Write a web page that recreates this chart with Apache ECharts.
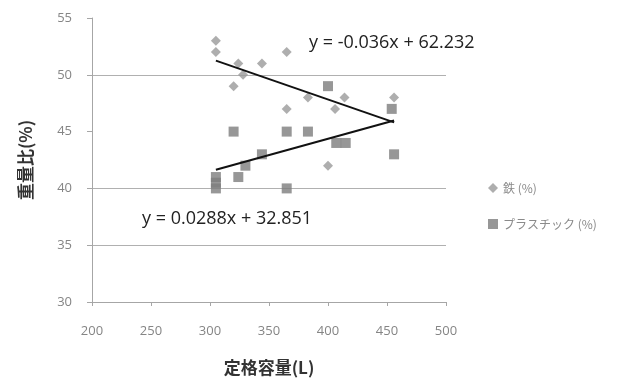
<!DOCTYPE html>
<html><head><meta charset="utf-8">
<script src="https://cdn.jsdelivr.net/npm/echarts@6/dist/echarts.min.js"></script>
<style>html,body{margin:0;padding:0;background:#fff}#c{width:627px;height:383px}</style>
</head><body><div id="c"></div>
<script>
// Data
const ironX = [305, 305, 320, 324, 328, 344, 365, 365, 383, 400, 406, 414, 456];
const ironY = [53, 52, 49, 51, 50, 51, 52, 47, 48, 42, 47, 48, 48];
const plasticX = [305, 305, 305, 320, 324, 330, 344, 365, 365, 383, 400, 407, 415, 454, 456];
const plasticY = [41, 40.5, 40, 45, 41, 42, 43, 45, 40, 45, 49, 44, 44, 47, 43];
const ironTrend = { slope: -0.036, intercept: 62.232 };
const plasticTrend = { slope: 0.0288, intercept: 32.851 };
const seriesNames = ['鉄 (%)', 'プラスチック (%)'];
const xTicks = [200, 250, 300, 350, 400, 450, 500];
const yTicks = [30, 35, 40, 45, 50, 55];

const zip = (xs, ys) => xs.map((x, i) => [x, ys[i]]);
function trendLine(xs, t) {
  const lo = Math.min(...xs), hi = Math.max(...xs);
  return [[lo, t.slope * lo + t.intercept], [hi, t.slope * hi + t.intercept]];
}
const allX = ironX.concat(plasticX);

const chart = echarts.init(document.getElementById('c'), null, { renderer: 'canvas' });
const axisFont = { color: '#858585', fontSize: 13, fontFamily: 'Open Sans, sans-serif' };
chart.setOption({
  animation: false,
  backgroundColor: '#ffffff',
  grid: { left: 92, right: 181, top: 18, bottom: 81, containLabel: false },
  xAxis: {
    type: 'value', min: xTicks[0], max: xTicks[xTicks.length - 1], interval: 50,
    name: '定格容量(L)', nameLocation: 'middle', nameGap: 57,
    nameTextStyle: { color: '#333', fontSize: 17, fontWeight: 'bold', fontFamily: 'Noto Sans CJK JP, sans-serif' },
    axisLine: { show: true, onZero: false, lineStyle: { color: '#a6a6a6', width: 1 } },
    axisTick: { show: true, length: 4, lineStyle: { color: '#a6a6a6' } },
    axisLabel: Object.assign({ margin: 23 }, axisFont),
    splitLine: { show: false }
  },
  yAxis: {
    type: 'value', min: yTicks[0], max: yTicks[yTicks.length - 1], interval: 5,
    name: '重量比(%)', nameLocation: 'middle', nameGap: 58, nameRotate: 90,
    nameTextStyle: { color: '#333', fontSize: 17, fontWeight: 'bold', fontFamily: 'Noto Sans CJK JP, sans-serif' },
    axisLine: { show: true, lineStyle: { color: '#a6a6a6', width: 1 } },
    axisTick: { show: true, length: 5, lineStyle: { color: '#a6a6a6' } },
    axisLabel: Object.assign({ margin: 20 }, axisFont),
    splitLine: { show: true, lineStyle: { color: ['#b0b0b0', '#b0b0b0', '#b0b0b0', 'rgba(0,0,0,0)', '#b0b0b0', 'rgba(0,0,0,0)'], width: 1.2 } }
  },
  legend: {
    orient: 'vertical', left: 483, top: 177, itemGap: 24, itemWidth: 10, itemHeight: 10,
    textStyle: { color: '#8a8a8a', fontSize: 12, fontFamily: 'Noto Sans CJK JP, sans-serif' },
    data: [{ name: seriesNames[0], icon: 'diamond' }, { name: seriesNames[1], icon: 'rect' }]
  },
  series: [
    { name: seriesNames[0], type: 'scatter', symbol: 'diamond', symbolSize: 10,
      itemStyle: { color: '#9a9a9a' }, data: zip(ironX, ironY), z: 3 },
    { name: seriesNames[1], type: 'scatter', symbol: 'rect', symbolSize: 10,
      itemStyle: { color: '#7d7d7d' }, data: zip(plasticX, plasticY), z: 3 },
    { name: 'trend1', type: 'line', data: trendLine(allX, ironTrend), symbol: 'none',
      lineStyle: { color: '#111', width: 2 }, z: 4, silent: true },
    { name: 'trend2', type: 'line', data: trendLine(allX, plasticTrend), symbol: 'none',
      lineStyle: { color: '#111', width: 2 }, z: 4, silent: true }
  ],
  graphic: [
    { type: 'text', left: 309, top: 34, style: { text: 'y = -0.036x + 62.232', fill: '#222', fontSize: 18, fontFamily: 'Open Sans, sans-serif' } },
    { type: 'text', left: 142, top: 210, style: { text: 'y = 0.0288x + 32.851', fill: '#222', fontSize: 18, fontFamily: 'Open Sans, sans-serif' } }
  ]
});
</script></body></html>
